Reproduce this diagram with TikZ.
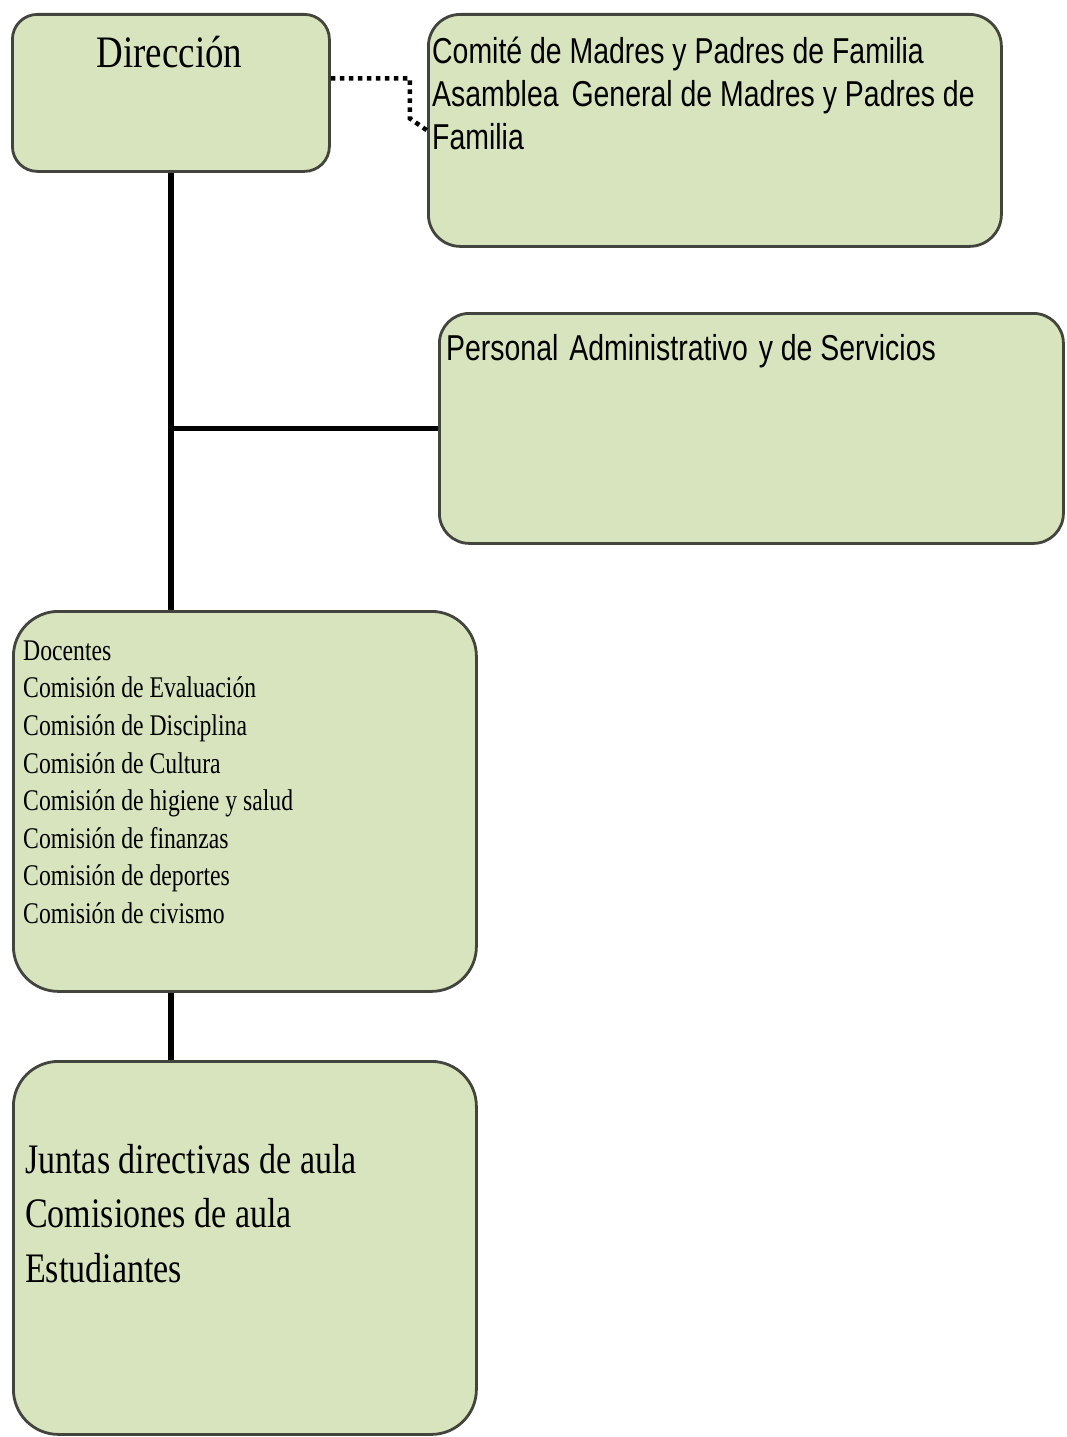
\documentclass[tikz,border=0pt]{standalone}
\usepackage{fontspec}
\newfontfamily\dirfont[FakeStretch=0.82]{Liberation Serif}
\newfontfamily\docfont[FakeStretch=0.79]{Liberation Serif}
\newfontfamily\junfont[FakeStretch=0.81]{Liberation Serif}
\newfontfamily\sansf[FakeStretch=0.79]{Liberation Sans}
\definecolor{boxfill}{HTML}{D7E4BD}
\definecolor{boxline}{HTML}{44443E}
\tikzset{
  orgbox/.style={draw=boxline, line width=2.8pt, fill=boxfill, inner sep=0pt, anchor=north west},
  conn/.style={line width=5.5pt, black},
  dotconn/.style={line width=4.5pt, black, dash pattern=on 4.5pt off 4.5pt},
  txt/.style={inner sep=0pt, anchor=north west, align=left, text=black}
}
\begin{document}
\begin{tikzpicture}[x=1pt,y=-1pt]
\useasboundingbox (0,0) rectangle (1066,1437);
\fill[white] (0,0) rectangle (1066,1437);
% boxes
\node[orgbox, rounded corners=25pt, minimum width=317pt, minimum height=157pt] (dir) at (11,13) {};
\node[orgbox, rounded corners=32pt, minimum width=573pt, minimum height=232pt] (com) at (427,13) {};
\node[orgbox, rounded corners=30pt, minimum width=624pt, minimum height=230pt] (per) at (438,312) {};
\node[orgbox, rounded corners=45pt, minimum width=463pt, minimum height=380pt] (doc) at (12,610) {};
\node[orgbox, rounded corners=45pt, minimum width=463pt, minimum height=373pt] (jun) at (12,1060) {};
% texts
\node[inner sep=0pt, anchor=base, font=\dirfont\fontsize{45}{54}\selectfont] (tdir) at (169.5,67) {Dirección};
\node[txt, font=\sansf\fontsize{36}{43}\selectfont] (tcom) at (432,29)
  {\rule{0pt}{34pt}Comité de Madres y Padres de Familia\\
   Asamblea\hspace{5pt} General de Madres y Padres de\\
   Familia};
\node[txt, font=\sansf\fontsize{36}{43}\selectfont] (tper) at (446,326)
  {\rule{0pt}{34pt}Personal\hspace{3pt} Administrativo\hspace{3pt} y de Servicios};
\node[txt, font=\docfont\fontsize{30}{37.6}\selectfont] (tdoc) at (23,632)
  {\rule{0pt}{28pt}Docentes\\
   Comisión de Evaluación\\
   Comisión de Disciplina\\
   Comisión de Cultura\\
   Comisión de higiene y salud\\
   Comisión de finanzas\\
   Comisión de deportes\\
   Comisión de civismo};
\node[txt, font=\junfont\fontsize{42}{54.5}\selectfont] (tjun) at (25,1133)
  {\rule{0pt}{40pt}Juntas directivas de aula\\
   Comisiones de aula\\
   Estudiantes};
% connectors
\draw[conn] (dir.south) -- (dir.south |- doc.north);
\draw[conn] (dir.south |- per.west) -- (per.west);
\draw[conn] (dir.south |- doc.south) -- (dir.south |- jun.north);
\draw[dotconn] ([yshift=14.5pt]dir.east) -- ++(79,0) -- ++(0,40) -- (com.west);
\end{tikzpicture}
\end{document}
